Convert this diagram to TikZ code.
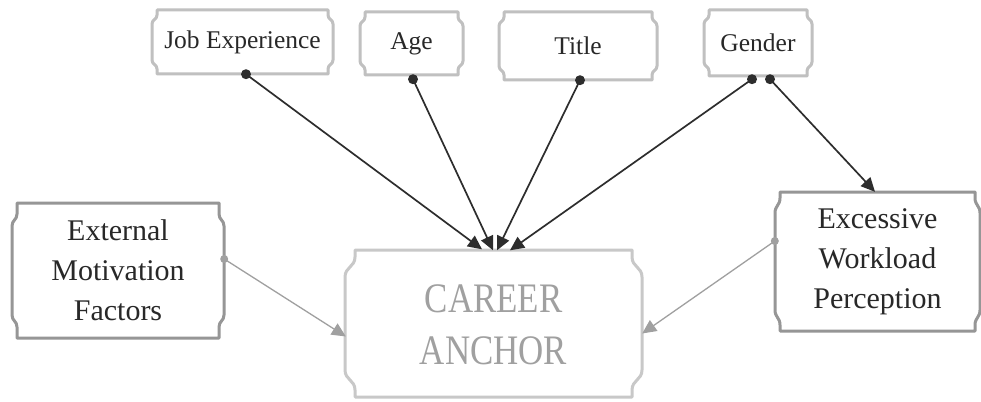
\documentclass[tikz,border=0pt]{standalone}
\usepackage{graphicx}
\usepackage{fontspec}
\setmainfont{Liberation Serif}
\usetikzlibrary{arrows.meta,calc}
\definecolor{txt}{RGB}{40,40,40}
\definecolor{lightb}{RGB}{192,192,192}
\definecolor{midb}{RGB}{150,150,150}
\definecolor{carb}{RGB}{200,200,200}
\definecolor{cartxt}{RGB}{160,160,160}
\definecolor{darkarr}{RGB}{45,45,45}
\definecolor{grayarr}{RGB}{160,160,160}
% style, x0, y0, x1, y1, d, s, h
\newcommand\scrollbox[8]{%
\draw[#1] (#2+#6,#3) -- (#4-#6,#3) -- (#4-#6,#3+#7)
 .. controls (#4-#6,#3+#7+#8/2) and (#4,#3+#7+#8/2) .. (#4,#3+#7+#8)
 -- (#4,#5-#7-#8)
 .. controls (#4,#5-#7-#8/2) and (#4-#6,#5-#7-#8/2) .. (#4-#6,#5-#7)
 -- (#4-#6,#5) -- (#2+#6,#5) -- (#2+#6,#5-#7)
 .. controls (#2+#6,#5-#7-#8/2) and (#2,#5-#7-#8/2) .. (#2,#5-#7-#8)
 -- (#2,#3+#7+#8)
 .. controls (#2,#3+#7+#8/2) and (#2+#6,#3+#7+#8/2) .. (#2+#6,#3+#7)
 -- cycle;}
\tikzset{
 boxtext/.style={inner sep=0pt, draw=none, align=center, text=txt},
 topbox/.style={boxtext, font=\fontsize{25.5}{30}\selectfont},
 midbox/.style={boxtext, font=\fontsize{30}{40}\selectfont},
 carbox/.style={inner sep=0pt, draw=none, align=center, text=cartxt, font=\fontsize{42}{52}\selectfont},
 lightborder/.style={draw=lightb, line width=3pt, line join=round},
 midborder/.style={draw=midb, line width=3pt, line join=round},
 carborder/.style={draw=carb, line width=3pt, line join=round},
 darrow/.style={draw=darkarr, line width=1.7pt, -{Triangle[length=14pt,width=13pt]}},
 garrow/.style={draw=grayarr, line width=1.3pt, -{Triangle[length=14pt,width=13pt]}},
 ddot/.style={fill=darkarr},
 gdot/.style={fill=grayarr}
}
\begin{document}
\begin{tikzpicture}[x=1pt,y=-1pt]
\useasboundingbox (0,0) rectangle (981,401);
\fill[white] (0,0) rectangle (981,401);
% borders
\scrollbox{lightborder}{152}{10}{333}{74}{5}{5}{9}
\scrollbox{lightborder}{360}{12}{463}{75}{5}{5}{9}
\scrollbox{lightborder}{499}{12}{657}{80}{5}{5}{9}
\scrollbox{lightborder}{704}{10}{812}{76}{5}{5}{9}
\scrollbox{midborder}{12}{203}{224}{338}{5}{11}{12}
\scrollbox{midborder}{775}{192}{980}{331}{5}{6}{15}
\scrollbox{carborder}{345}{250}{642}{397}{10}{7}{20}
% nodes
\node[topbox, minimum width=181pt, minimum height=64pt] (job) at (242.5,42) {Job Experience};
\node[topbox, minimum width=103pt, minimum height=63pt] (age) at (411.5,43.5) {Age};
\node[topbox, minimum width=158pt, minimum height=68pt] (title) at (578,46) {Title};
\node[topbox, minimum width=108pt, minimum height=66pt] (gender) at (758,43) {Gender};
\node[midbox, minimum width=212pt, minimum height=135pt] (ext) at (118,270.5) {External\\Motivation\\Factors};
\node[midbox, minimum width=205pt, minimum height=139pt] (exc) at (877.5,261.5) {Excessive\\Workload\\Perception};
\node[carbox, minimum width=297pt, minimum height=147pt] (car) at (493.5,325) {\scalebox{0.83}[1]{CAREER}\\\scalebox{0.83}[1]{ANCHOR}};
% connector ends
\coordinate (jobo) at ($(job.south)+(3.5,0)$);
\coordinate (ageo) at ($(age.south)+(1.5,4)$);
\coordinate (titleo) at ($(title.south)+(2,0)$);
\coordinate (gena) at ($(gender.south)+(-6,3)$);
\coordinate (genb) at ($(gender.south)+(12,3)$);
\coordinate (exto) at ($(ext.east)+(0,-11.5)$);
\coordinate (exco) at ($(exc.west)+(0,-20.5)$);
\coordinate (cin1) at ($(car.north)+(-11.5,-2)$);
\coordinate (cin2) at ($(car.north)+(-0.5,-1)$);
\coordinate (cin3) at ($(car.north)+(3.5,-1)$);
\coordinate (cin4) at ($(car.north)+(16.5,-1)$);
\coordinate (cinl) at ($(car.west)+(1,11.5)$);
\coordinate (cinr) at ($(car.east)+(0,8.5)$);
\coordinate (excin) at ($(exc.north)+(-2.5,0)$);
% connectors
\draw[darrow] (jobo) -- (cin1);
\draw[darrow] (ageo) -- (cin2);
\draw[darrow] (titleo) -- (cin3);
\draw[darrow] (gena) -- (cin4);
\draw[darrow] (genb) -- (excin);
\draw[garrow] (exto) -- (cinl);
\draw[garrow] (exco) -- (cinr);
% dots
\fill[ddot] (jobo) circle (5);
\fill[ddot] (ageo) circle (5);
\fill[ddot] (titleo) circle (5);
\fill[ddot] (gena) circle (5);
\fill[ddot] (genb) circle (5);
\fill[gdot] (exto) circle (4);
\fill[gdot] (exco) circle (4);
\end{tikzpicture}
\end{document}
